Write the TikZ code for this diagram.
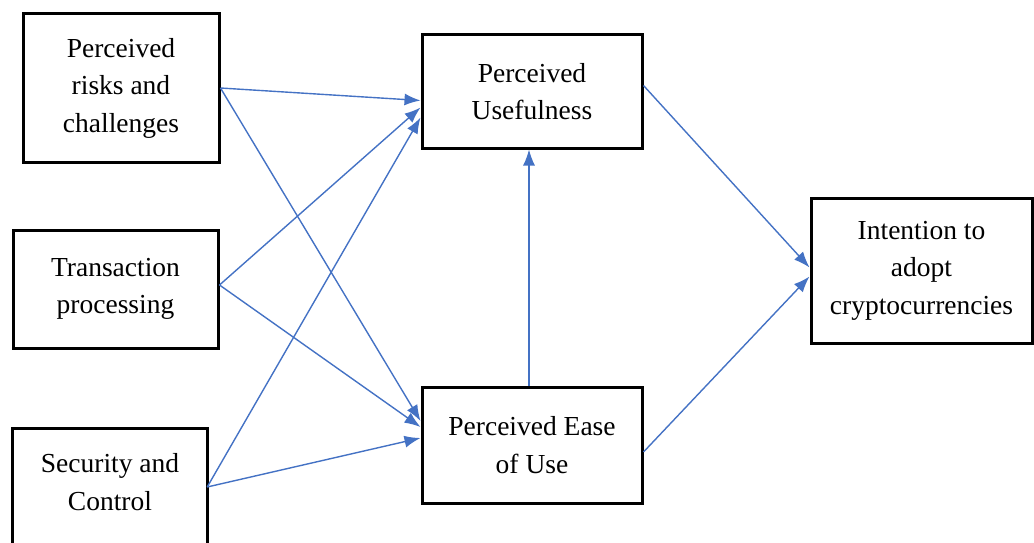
\documentclass[tikz,border=0pt]{standalone}
\usepackage{fontspec}
\setmainfont{Liberation Serif}
\usetikzlibrary{arrows.meta,calc}
\definecolor{linkblue}{HTML}{4472C4}
\begin{document}
\begin{tikzpicture}[x=1pt,y=-1pt,
  box/.style={draw=black,line width=3pt,align=center,inner sep=0pt,
    font=\fontsize{27.5}{37.5}\selectfont},
  link/.style={draw=linkblue,line width=1.4pt,-{Latex[length=16pt,width=12pt]}}]
\useasboundingbox (0,0) rectangle (1034,543);
\node[box,minimum width=196pt,minimum height=148pt] (risk) at (121,88) {Perceived\\risks and\\challenges};
\node[box,minimum width=205pt,minimum height=118pt] (trans) at (115.5,289) {Transaction\\processing};
\node[align=center,inner sep=0pt,minimum width=194pt,minimum height=106pt,
  font=\fontsize{27.5}{37.5}\selectfont] (sec) at (110,482) {Security and\\Control};
\draw[black,line width=3pt] (sec.south west |- 0,600) -- (sec.north west) -- (sec.north east) -- (sec.south east |- 0,600);
\node[box,minimum width=220pt,minimum height=113pt] (pu) at (532,91.5) {Perceived\\Usefulness};
\node[box,minimum width=220pt,minimum height=116pt] (peu) at (532,445) {Perceived Ease\\of Use};
\node[box,minimum width=221pt,minimum height=145pt] (int) at (921.5,270.5) {Intention to\\adopt\\cryptocurrencies};
\coordinate (riskO) at ($(risk.east)+(0,0)$);
\coordinate (transO) at ($(trans.east)+(0,-4)$);
\coordinate (secO) at ($(sec.east)+(0,5)$);
\draw[link] (riskO) -- ($(pu.west)+(0,9)$);
\draw[link] (riskO) -- ($(peu.west)+(0,-24)$);
\draw[link] (transO) -- ($(pu.west)+(0,16)$);
\draw[link] (transO) -- ($(peu.west)+(0,-18)$);
\draw[link] (secO) -- ($(pu.west)+(0,26)$);
\draw[link] (secO) -- ($(peu.west)+(0,-7)$);
\draw[link] (peu.north -| 529,0) -- (pu.south -| 529,0);
\draw[link] ($(pu.east)+(0,-6)$) -- ($(int.west)+(0,-3)$);
\draw[link] ($(peu.east)+(0,7)$) -- ($(int.west)+(0,6)$);
\end{tikzpicture}
\end{document}
